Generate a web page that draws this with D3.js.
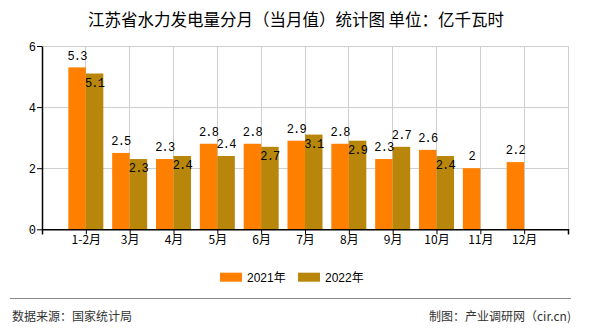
<!DOCTYPE html>
<html><head><meta charset="utf-8">
<script src="https://cdn.jsdelivr.net/npm/d3@7"></script>
<style>
html,body{margin:0;padding:0;background:#fff;}
svg{display:block;}
</style></head>
<body>
<svg id="c" width="590" height="330"></svg>
<script>
const categories = ["1-2月","3月","4月","5月","6月","7月","8月","9月","10月","11月","12月"];
const series2021 = [5.3,2.5,2.3,2.8,2.8,2.9,2.8,2.3,2.6,2.0,2.2];
const series2022 = [5.1,2.3,2.4,2.4,2.7,3.1,2.9,2.7,2.4,null,null];
const seriesNames = ["2021年","2022年"];
const yTicks = [0,2,4,6];
const title = "江苏省水力发电量分月（当月值）统计图 单位：亿千瓦时";
const sourceText = "数据来源：国家统计局";
const creditText = "制图：产业调研网（cir.cn)";

(function(){
const colors = ["#FF8000","#B8860B"];
const svg = d3.select("#c");
const cjk = "'Noto Sans CJK SC','Noto Sans',sans-serif";
const mono = "'Liberation Mono','DejaVu Sans Mono',monospace";

const pl = 42, pr = 568, pt = 46, pb = 229.3;
const domain = ["__L", ...categories, "__R"];
const x = d3.scalePoint().domain(domain).range([pl, pr]);
const y = d3.scaleLinear().domain([0,6]).range([pb, pt]);
const bw = 17.5;

// title
svg.append("text").attr("x",296).attr("y",20).attr("text-anchor","middle").attr("dy","0.35em")
  .attr("font-family",cjk).attr("font-size",16.5).attr("font-weight",400).attr("fill","#000").text(title);

// grid
const g = svg.append("g");
g.selectAll("line.hg").data(yTicks.filter(d=>d>0)).enter().append("line")
  .attr("x1",pl).attr("x2",pr).attr("y1",d=>y(d)).attr("y2",d=>y(d))
  .attr("stroke","#cfcfcf").attr("stroke-width",1).attr("shape-rendering","crispEdges");
g.selectAll("line.vg").data(domain.slice(1)).enter().append("line")
  .attr("x1",d=>x(d)).attr("x2",d=>x(d)).attr("y1",pt).attr("y2",pb)
  .attr("stroke","#cfcfcf").attr("stroke-width",1).attr("shape-rendering","crispEdges");

// bars
const bars = svg.append("g");
bars.selectAll("rect.a").data(categories).enter().append("rect")
  .attr("x",d=>x(d)-bw).attr("width",bw)
  .attr("y",(d,i)=>y(series2021[i])).attr("height",(d,i)=>y(0)-y(series2021[i]))
  .attr("fill",colors[0]);
bars.selectAll("rect.b").data(categories.filter((d,i)=>series2022[i]!=null)).enter().append("rect")
  .attr("x",d=>x(d)).attr("width",bw)
  .attr("y",d=>y(series2022[categories.indexOf(d)])).attr("height",d=>y(0)-y(series2022[categories.indexOf(d)]))
  .attr("fill",colors[1]);

// axes
const xAxis = d3.axisBottom(x).tickSize(5).tickFormat(d=>d.startsWith("__")?"":d);
const ax = svg.append("g").attr("transform",`translate(0,${pb})`).call(xAxis);
ax.select(".domain").attr("stroke","#000").attr("stroke-width",1.5);
ax.selectAll(".tick line").attr("stroke","#000");
ax.selectAll(".tick text").attr("font-family",cjk).attr("font-size",12).attr("fill","#000").attr("dy","0.55em");
const yAxis = d3.axisLeft(y).tickValues(yTicks).tickFormat(d3.format("d")).tickSize(5).tickSizeOuter(0);
const ay = svg.append("g").attr("transform",`translate(${pl},0)`).call(yAxis);
ay.select(".domain").attr("stroke","#000").attr("stroke-width",1.5);
ay.selectAll(".tick line").attr("stroke","#000");
ay.selectAll(".tick text").attr("font-family",mono).attr("font-size",12).attr("fill","#000").attr("x",-6).attr("dy","0.35em");

// value labels
const lab = svg.append("g").attr("font-family",mono).attr("font-size",12).attr("fill","#000")
  .attr("text-anchor","middle").attr("letter-spacing","-0.8px");
categories.forEach((c,i)=>{
  const ya = y(series2021[i]) - 12;
  lab.append("text").attr("x",x(c)-bw/2).attr("y",ya).attr("dy","0.35em").text(String(series2021[i]));
  if(series2022[i]!=null){
    let yb = y(series2022[i]) - 12;
    if(Math.abs(yb-ya) < 9) yb = y(series2022[i]) + 9;
    lab.append("text").attr("x",x(c)+bw/2).attr("y",yb).attr("dy","0.35em").text(String(series2022[i]));
  }
});

// legend
const lg = svg.append("g");
const lx = [220, 298];
seriesNames.forEach((n,i)=>{
  lg.append("rect").attr("x",lx[i]).attr("y",272.7).attr("width",22).attr("height",9).attr("fill",colors[i]);
  lg.append("text").attr("x",lx[i]+27).attr("y",277.5).attr("dy","0.35em")
    .attr("font-family","'Liberation Sans',Arial,"+cjk).attr("font-size",12).attr("fill","#000").text(n);
});

// footer
svg.append("line").attr("x1",10).attr("x2",571).attr("y1",298.5).attr("y2",298.5).attr("stroke","#888").attr("stroke-width",1);
svg.append("text").attr("x",12).attr("y",317).attr("dy","0.35em").attr("font-family",cjk).attr("font-size",12).attr("fill","#333").text(sourceText);
svg.append("text").attr("x",571).attr("y",317).attr("dy","0.35em").attr("text-anchor","end").attr("font-family",cjk).attr("font-size",12).attr("fill","#333").text(creditText);
})();
</script>
</body></html>
